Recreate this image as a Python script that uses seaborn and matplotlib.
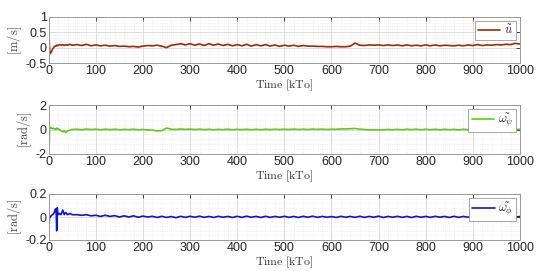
import numpy as np
import pandas as pd
import matplotlib
matplotlib.use("Agg")
import matplotlib.pyplot as plt
import seaborn as sns
from matplotlib.ticker import AutoMinorLocator

# ---- data ----
t_head = [0, 1, 2, 3, 5, 8, 11, 14, 16, 17, 18, 20, 23, 26, 30, 33, 36, 40, 45, 50]
t_tail = [60, 70, 80, 90, 100, 110, 120, 130, 140, 150, 160, 170, 180, 190, 200,
          210, 220, 230, 240, 250, 260, 270, 280, 290, 300, 310, 320, 330, 340, 350,
          360, 370, 380, 390, 400, 410, 420, 430, 440, 450, 460, 470, 480, 490, 500,
          510, 520, 530, 540, 550, 560, 570, 580, 590, 600, 610, 620, 630, 640, 650,
          660, 670, 680, 690, 700, 710, 720, 730, 740, 750, 760, 770, 780, 790, 800,
          810, 820, 830, 840, 850, 860, 870, 880, 890, 900, 910, 920, 930, 940, 950,
          960, 970, 980, 990, 1000]
time = t_head + t_tail

u_err = [0.75, 0.3, -0.1, -0.2, -0.15, -0.05, 0.02, 0.05, 0.07, 0.06, 0.08, 0.07, 0.1, 0.08, 0.1, 0.07, 0.1, 0.08, 0.11, 0.08,
         0.1, 0.07, 0.11, 0.06, 0.09, 0.06, 0.08, 0.05, 0.07, 0.04, 0.05, 0.03, 0.04, 0.02, 0.05,
         0.07, 0.06, 0.08, 0.05, 0.0, 0.08, 0.1, 0.13, 0.09, 0.13, 0.08, 0.12, 0.07, 0.13, 0.08,
         0.12, 0.07, 0.11, 0.06, 0.1, 0.06, 0.11, 0.05, 0.1, 0.06, 0.1, 0.05, 0.09, 0.04, 0.08,
         0.05, 0.08, 0.04, 0.07, 0.05, 0.05, 0.04, 0.04, 0.03, 0.03, 0.04, 0.03, 0.03, 0.05, 0.15,
         0.08, 0.07, 0.09, 0.08, 0.09, 0.07, 0.09, 0.07, 0.09, 0.06, 0.09, 0.06, 0.08, 0.06, 0.09,
         0.06, 0.09, 0.06, 0.08, 0.07, 0.06, 0.08, 0.06, 0.09, 0.07, 0.1, 0.07, 0.09, 0.08, 0.1,
         0.09, 0.11, 0.1, 0.14, 0.12]

w_psi_err = [2.0, -1.5, 0.2, 0.1, 0.15, 0.05, 0.1, 0.0, 0.1, 0.05, 0.1, 0.05, 0.0, -0.1, -0.2, -0.1, -0.25, -0.1, -0.05, 0.0,
             0.02, -0.02, 0.03, 0.0, 0.02, -0.02, 0.02, -0.01, 0.02, -0.02, 0.01, -0.01, 0.02, -0.02, 0.0,
             -0.03, -0.05, -0.12, -0.1, 0.12, 0.02, 0.0, 0.04, 0.01, 0.03, 0.0, 0.02, -0.01, 0.02, -0.02,
             0.01, -0.01, 0.02, -0.02, 0.01, -0.01, 0.02, -0.02, 0.01, -0.01, 0.02, -0.01, 0.02, 0.0, 0.02,
             0.0, 0.03, 0.0, 0.02, 0.0, 0.03, 0.01, 0.03, 0.0, 0.02, 0.02, 0.04, 0.05, 0.06, 0.08,
             0.03, 0.0, -0.03, -0.02, -0.04, -0.02, 0.0, -0.02, 0.01, -0.02, 0.02, -0.01, 0.02, -0.02, 0.02,
             -0.02, 0.02, -0.03, 0.02, -0.02, 0.01, -0.03, 0.02, -0.02, 0.02, -0.02, 0.02, -0.03, 0.01, -0.02,
             0.02, -0.02, 0.03, 0.0, 0.02]

w_phi_err = [-0.18, -0.05, 0.0, 0.0, 0.01, 0.02, 0.03, 0.07, 0.03, -0.12, 0.08, 0.02, 0.03, 0.02, 0.06, 0.02, 0.04, 0.02, 0.03, 0.02,
             0.02, 0.015, 0.02, 0.01, 0.015, 0.005, 0.015, 0.005, 0.012, 0.0, 0.01, 0.0, 0.01, -0.002, 0.008,
             0.0, 0.006, -0.004, 0.006, -0.004, 0.004, -0.006, 0.006, -0.003, 0.006, -0.002, 0.007, -0.003, 0.005, -0.004,
             0.006, -0.002, 0.005, -0.004, 0.006, -0.003, 0.007, -0.002, 0.005, -0.004, 0.006, -0.003, 0.005, -0.002, 0.006,
             -0.003, 0.005, -0.004, 0.006, -0.002, 0.007, -0.003, 0.005, -0.002, 0.004, -0.004, 0.006, -0.002, 0.005, -0.003,
             0.006, -0.003, 0.005, -0.002, 0.007, -0.004, 0.005, -0.002, 0.006, -0.003, 0.005, -0.004, 0.006, -0.002, 0.005,
             -0.003, 0.006, -0.002, 0.005, -0.004, 0.006, -0.003, 0.005, -0.002, 0.007, -0.003, 0.005, -0.004, 0.006, -0.002,
             0.005, -0.003, 0.006, -0.001, 0.004]

x_ticks = [0, 100, 200, 300, 400, 500, 600, 700, 800, 900, 1000]
panels = [
    dict(y=u_err, label=r"$\tilde{u}$", ylabel=r"$[\mathrm{m/s}]$", color="#9a2d10",
         ylim=(-0.5, 1.0), yticks=[-0.5, 0, 0.5, 1], yticklabels=["-0.5", "0", "0.5", "1"]),
    dict(y=w_psi_err, label=r"$\tilde{\omega_\psi}$", ylabel=r"$[\mathrm{rad/s}]$", color="#62c81c",
         ylim=(-2, 2), yticks=[-2, 0, 2], yticklabels=["-2", "0", "2"]),
    dict(y=w_phi_err, label=r"$\tilde{\omega_\phi}$", ylabel=r"$[\mathrm{rad/s}]$", color="#1414c8",
         ylim=(-0.2, 0.2), yticks=[-0.2, 0, 0.2], yticklabels=["-0.2", "0", "0.2"]),
]

sns.set_theme(style="white")
plt.rcParams["font.family"] = ["Liberation Sans", "DejaVu Sans"]
plt.rcParams["mathtext.fontset"] = "cm"
plt.rcParams["axes.unicode_minus"] = False

fig = plt.figure(figsize=(5.5, 2.71), dpi=100)
rects = [
    [48.7 / 550, 1 - 63 / 271, (520 - 48.7) / 550, 46 / 271],
    [48.7 / 550, 1 - 154 / 271, (520 - 48.7) / 550, 49 / 271],
    [48.7 / 550, 1 - 240 / 271, (520 - 48.7) / 550, 46 / 271],
]

for rect, p in zip(rects, panels):
    ax = fig.add_axes(rect)
    df = pd.DataFrame({"Time": time, "val": p["y"]})
    sns.lineplot(data=df, x="Time", y="val", ax=ax, color=p["color"], linewidth=1.2,
                 label=p["label"], estimator=None, sort=False)
    ax.set_xlim(0, 1000)
    ax.set_ylim(*p["ylim"])
    ax.set_xticks(x_ticks)
    ax.set_xticklabels([str(v) for v in x_ticks])
    ax.set_yticks(p["yticks"])
    ax.set_yticklabels(p["yticklabels"])
    ax.xaxis.set_minor_locator(AutoMinorLocator(5))
    ax.yaxis.set_minor_locator(AutoMinorLocator(5))
    ax.grid(True, which="major", color="#d8d8d8", linewidth=0.6)
    ax.grid(True, which="minor", color="#e6e6e6", linewidth=0.5, linestyle=":")
    ax.set_axisbelow(True)
    ax.tick_params(axis="both", which="major", direction="in", length=3, width=0.6,
                   top=True, right=True, labelsize=9, colors="#262626", pad=1.5)
    ax.tick_params(axis="both", which="minor", length=0)
    for s in ax.spines.values():
        s.set_color("#9a9a9a")
        s.set_linewidth(0.7)
    ax.set_xlabel(r"$\mathrm{Time\ [kTo]}$", fontsize=8.5, color="#333333", labelpad=0)
    ax.set_ylabel(p["ylabel"], fontsize=9, color="#444444", labelpad=1)
    leg = ax.legend(loc="upper right", fontsize=9, frameon=True, fancybox=False,
                    handlelength=1.8, handletextpad=0.3, borderpad=0.25,
                    borderaxespad=0.3, framealpha=1)
    leg.get_frame().set_edgecolor("#9a9a9a")
    leg.get_frame().set_linewidth(0.6)

fig.savefig("out.png", dpi=100)
